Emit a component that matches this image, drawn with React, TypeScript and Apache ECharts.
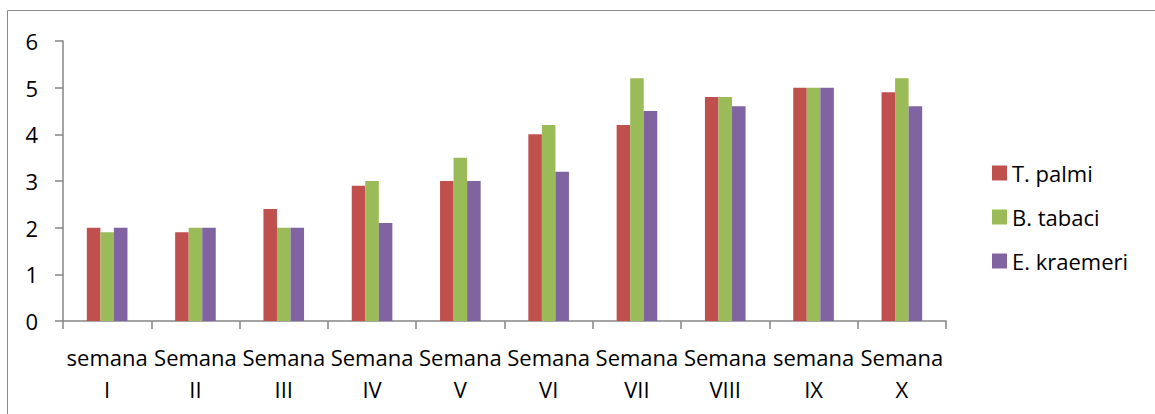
import React, { useEffect, useRef } from "react";
import * as echarts from "echarts";

const weeks = [
  "semana\nI",
  "Semana\nII",
  "Semana\nIII",
  "Semana\nIV",
  "Semana\nV",
  "Semana\nVI",
  "Semana\nVII",
  "Semana\nVIII",
  "semana\nIX",
  "Semana\nX",
];
const tPalmi = [2, 1.9, 2.4, 2.9, 3, 4, 4.2, 4.8, 5, 4.9];
const bTabaci = [1.9, 2, 2, 3, 3.5, 4.2, 5.2, 4.8, 5, 5.2];
const eKraemeri = [2, 2, 2, 2.1, 3, 3.2, 4.5, 4.6, 5, 4.6];

const seriesNames = ["T. palmi", "B. tabaci", "E. kraemeri"];
const seriesColors = ["#C0504D", "#9BBB59", "#8064A2"];

const FONT = "'Open Sans', sans-serif";
const AXIS_GRAY = "#868686";

export default function App() {
  const ref = useRef<HTMLDivElement>(null);

  useEffect(() => {
    if (!ref.current) return;
    const chart = echarts.init(ref.current, undefined, { renderer: "svg" });
    const values = [tPalmi, bTabaci, eKraemeri];
    chart.setOption({
      animation: false,
      backgroundColor: "#ffffff",
      textStyle: { fontFamily: FONT, color: "#000" },
      graphic: [
        {
          type: "rect",
          silent: true,
          shape: { x: 7.5, y: 10.5, width: 1300, height: 600 },
          style: { fill: "none", stroke: "#8a8a8a", lineWidth: 1 },
        },
      ],
      grid: { left: 63, right: 209, top: 41, bottom: 93 },
      legend: {
        orient: "vertical",
        left: 987,
        top: 157,
        itemWidth: 15,
        itemHeight: 15,
        itemGap: 22,
        icon: "rect",
        textStyle: { fontFamily: FONT, fontSize: 22, color: "#000", lineHeight: 22 },
        data: seriesNames,
      },
      xAxis: {
        type: "category",
        data: weeks,
        axisLine: { lineStyle: { color: AXIS_GRAY, width: 1.5 } },
        axisTick: { show: true, length: 8, lineStyle: { color: AXIS_GRAY, width: 1.5 } },
        axisLabel: {
          interval: 0,
          margin: 20,
          fontFamily: FONT,
          fontSize: 22,
          lineHeight: 32,
          color: "#000",
        },
        splitLine: { show: false },
      },
      yAxis: {
        type: "value",
        min: 0,
        max: 6,
        interval: 1,
        axisLine: { show: true, lineStyle: { color: AXIS_GRAY, width: 1.5 } },
        axisTick: { show: true, length: 8, lineStyle: { color: AXIS_GRAY, width: 1.5 } },
        axisLabel: { margin: 25, fontFamily: FONT, fontSize: 22, color: "#000" },
        splitLine: { show: false },
      },
      series: seriesNames.map((name, i) => ({
        name,
        type: "bar",
        data: values[i],
        barGap: "0%",
        barCategoryGap: "54%",
        itemStyle: { color: seriesColors[i] },
      })),
    });
    return () => chart.dispose();
  }, []);

  return (
    <div
      ref={ref}
      style={{ position: "fixed", left: 0, top: 0, width: 1155, height: 414 }}
    />
  );
}
